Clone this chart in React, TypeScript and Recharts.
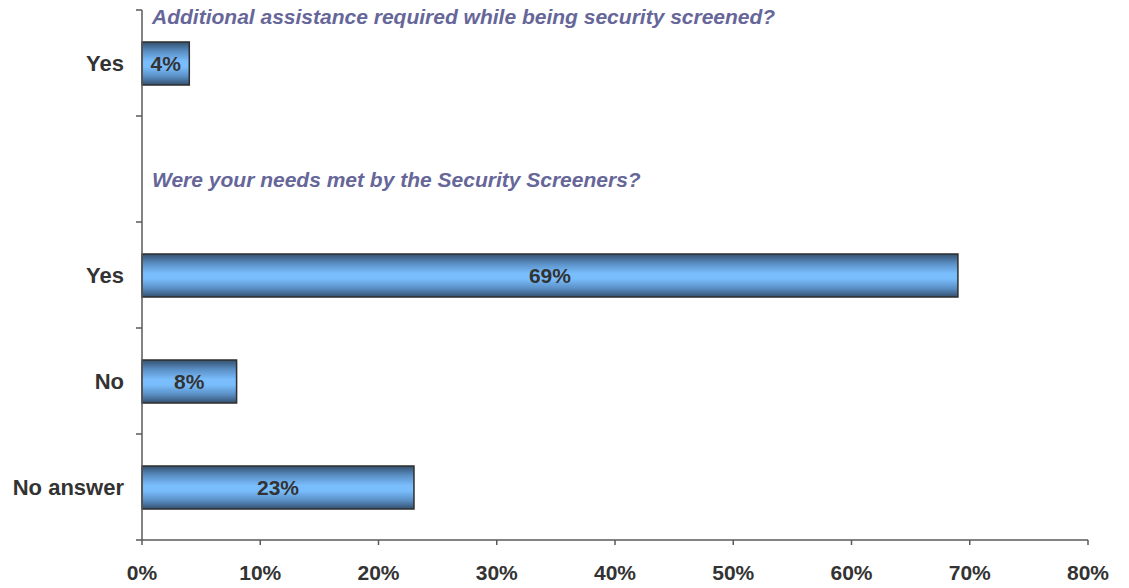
import { BarChart, Bar, XAxis, YAxis, LabelList } from 'recharts';

// one slot per row; the empty slot holds the second question's heading
const rowIds = ['r1', 'gap', 'r2', 'r3', 'r4'];
const rowLabels = ['Yes', '', 'Yes', 'No', 'No answer'];
const rowValues: (number | null)[] = [4, null, 69, 8, 23];
const xTicks = [0, 10, 20, 30, 40, 50, 60, 70, 80];

const question1 = 'Additional assistance required while being security screened?';
const question2 = 'Were your needs met by the Security Screeners?';

const data = rowIds.map((id, i) => ({ id, value: rowValues[i] }));

const textColor = '#333333';
const axisColor = '#5a5a5a';
const font = 'Arial, "Liberation Sans", sans-serif';
const labelGap = 18;
const edgeTick = 6;

// category label plus tick marks on the band edges (Excel style)
function CategoryTick(props: any) {
  const { x, y, payload, index, visibleTicksCount, height } = props;
  const band = Number(height) / visibleTicksCount;
  const axisX = x + labelGap;
  const label = rowLabels[rowIds.indexOf(payload.value)];
  return (
    <g>
      <text
        x={x}
        y={y}
        dy="0.355em"
        textAnchor="end"
        fill={textColor}
        fontSize={22}
        fontWeight="bold"
        fontFamily={font}
      >
        {label}
      </text>
      <line x1={axisX - edgeTick} x2={axisX} y1={y - band / 2} y2={y - band / 2} stroke={axisColor} strokeWidth={1.5} />
      {index === visibleTicksCount - 1 && (
        <line x1={axisX - edgeTick} x2={axisX} y1={y + band / 2} y2={y + band / 2} stroke={axisColor} strokeWidth={1.5} />
      )}
    </g>
  );
}

export default function App() {
  const titleStyle: React.CSSProperties = {
    position: 'absolute',
    left: 152,
    fontFamily: font,
    fontSize: 21,
    fontWeight: 'bold',
    fontStyle: 'italic',
    color: '#666699',
    whiteSpace: 'nowrap',
  };

  return (
    <div style={{ position: 'absolute', left: 0, top: 0, width: 1129, height: 588, background: '#fff' }}>
      <BarChart
        width={1129}
        height={588}
        data={data}
        layout="vertical"
        margin={{ top: 10, right: 41, bottom: 0, left: 0 }}
        barCategoryGap={0}
      >
        <defs>
          <linearGradient id="barFill" x1="0" y1="0" x2="0" y2="1">
            <stop offset="0%" stopColor="#34506f" />
            <stop offset="22%" stopColor="#5a8fc4" />
            <stop offset="45%" stopColor="#79bdfd" />
            <stop offset="58%" stopColor="#79bdfd" />
            <stop offset="80%" stopColor="#5a8fc4" />
            <stop offset="100%" stopColor="#34506f" />
          </linearGradient>
        </defs>
        <YAxis
          type="category"
          dataKey="id"
          width={142}
          tickLine={false}
          tickSize={0}
          tickMargin={labelGap}
          axisLine={{ stroke: axisColor, strokeWidth: 1.5 }}
          tick={<CategoryTick />}
        />
        <XAxis
          type="number"
          domain={[0, 80]}
          ticks={xTicks}
          height={48}
          tickFormatter={(v: number) => `${v}%`}
          tickSize={5}
          tickMargin={20}
          axisLine={{ stroke: axisColor, strokeWidth: 1.5 }}
          tickLine={{ stroke: axisColor, strokeWidth: 1.5 }}
          tick={{ fill: textColor, fontSize: 21, fontWeight: 'bold', fontFamily: font }}
        />
        <Bar
          dataKey="value"
          barSize={43}
          fill="url(#barFill)"
          stroke="#2e2e2e"
          strokeWidth={1.5}
          isAnimationActive={false}
        >
          <LabelList
            dataKey="value"
            position="center"
            formatter={(v: any) => (v == null ? '' : `${v}%`)}
            style={{ fill: textColor, fontSize: 21, fontWeight: 'bold', fontFamily: font }}
          />
        </Bar>
      </BarChart>
      <div style={{ ...titleStyle, top: 5 }}>{question1}</div>
      <div style={{ ...titleStyle, top: 168 }}>{question2}</div>
    </div>
  );
}
